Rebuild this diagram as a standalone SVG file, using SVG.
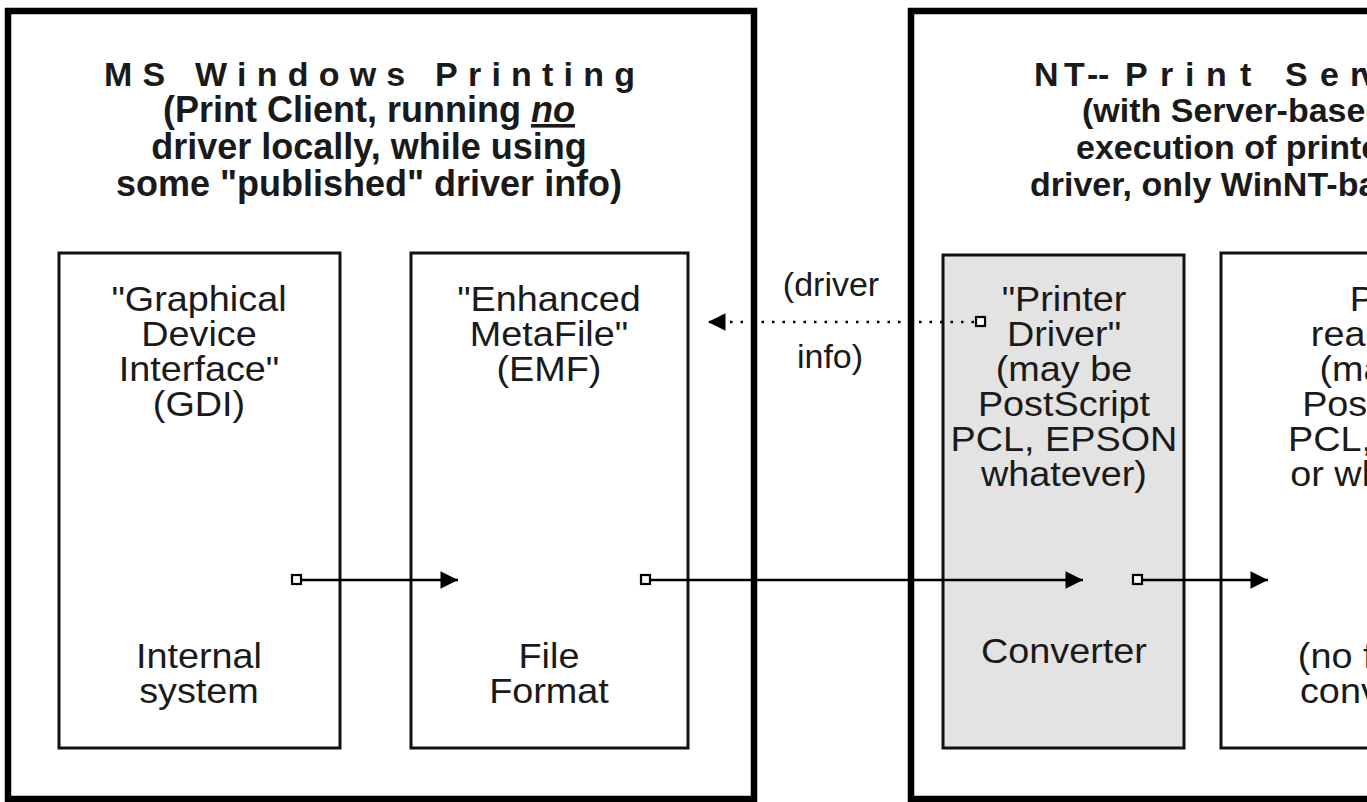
<svg xmlns="http://www.w3.org/2000/svg" width="1367" height="802" viewBox="0 0 1367 802">
<defs>
<style>
.outer{fill:#fff;stroke:#000;stroke-width:6.5}
.box{fill:#fff;stroke:#111;stroke-width:3}
.grey{fill:#e3e3e3;stroke:#111;stroke-width:3}
.t{font-family:"Liberation Sans",Arial,sans-serif;font-size:35px;fill:#1a1a1a;text-anchor:middle}
.ts{font-family:"Liberation Sans",Arial,sans-serif;font-size:35px;fill:#1a1a1a}
.lb{font-family:"Liberation Sans",Arial,sans-serif;font-size:34px;fill:#1a1a1a;text-anchor:middle}
.h{font-family:"Liberation Sans",Arial,sans-serif;font-size:34px;font-weight:bold;fill:#1a1a1a}
.hm{font-family:"Liberation Sans",Arial,sans-serif;font-size:36px;font-weight:bold;fill:#1a1a1a;text-anchor:middle}
.ln{stroke:#000;stroke-width:2.5;fill:none}
.dot{stroke:#000;stroke-width:2.5;fill:none;stroke-dasharray:2.5 8}
.sq{fill:#fff;stroke:#000;stroke-width:2.2}
</style>
<marker id="ah" viewBox="0 0 10 10" refX="10" refY="5" markerWidth="9" markerHeight="7" markerUnits="strokeWidth" orient="auto">
<path d="M0,0 L10,5 L0,10 Z" fill="#000"/>
</marker>
</defs>
<rect width="1367" height="802" fill="#fff"/>
<g id="client">
<rect class="outer" x="8" y="11" width="746" height="788"/>
<text class="h" x="104" y="86" textLength="531" lengthAdjust="spacing">MS Windows Printing</text>
<text class="hm" x="369" y="122">(Print Client, running <tspan font-style="italic" text-decoration="underline">no</tspan></text>
<text class="hm" x="369" y="159">driver locally, while using</text>
<text class="hm" x="369" y="196">some "published" driver info)</text>
</g>
<g id="gdi">
<rect class="box" x="59" y="253" width="281" height="495"/>
<g transform="matrix(1.08 0 0 1 -15.92 0)">
<text class="t" x="199" y="311">"Graphical</text>
<text class="t" x="199" y="346">Device</text>
<text class="t" x="199" y="381">Interface"</text>
<text class="t" x="199" y="416">(GDI)</text>
<text class="t" x="199" y="668">Internal</text>
<text class="t" x="199" y="703">system</text>
</g>
</g>
<g id="emf">
<rect class="box" x="411" y="253" width="277" height="495"/>
<g transform="matrix(1.08 0 0 1 -43.92 0)">
<text class="t" x="549" y="311">"Enhanced</text>
<text class="t" x="549" y="346">MetaFile"</text>
<text class="t" x="549" y="381">(EMF)</text>
<text class="t" x="549" y="668">File</text>
<text class="t" x="549" y="703">Format</text>
</g>
</g>
<g id="server">
<rect class="outer" x="911" y="11" width="500" height="788"/>
<text class="h" x="1034 1064 1087 1098 1110 1125 1160 1185 1206 1240 1262 1285 1320 1350 1360" y="86">NT-- Print Serv</text>
<text class="h" font-size="31" x="1082" y="122">(with Server-based</text>
<text class="h" font-size="31" x="1076" y="159">execution of printe</text>
<text class="h" font-size="31" x="1030" y="196">driver, only WinNT-bas</text>
</g>
<g id="driver">
<rect class="grey" x="943" y="255" width="241" height="493"/>
<g transform="matrix(1.08 0 0 1 -85.12 0)">
<text class="t" x="1064" y="311">"Printer</text>
<text class="t" x="1064" y="346">Driver"</text>
<text class="t" x="1064" y="381">(may be</text>
<text class="t" x="1064" y="416">PostScript</text>
<text class="t" x="1064" y="451">PCL, EPSON</text>
<text class="t" x="1064" y="486">whatever)</text>
<text class="t" x="1064" y="663">Converter</text>
</g>
</g>
<g id="ready">
<rect class="box" x="1221" y="253" width="200" height="495"/>
<g transform="matrix(1.08 0 0 1 -104 0)">
<text class="ts" x="1346" y="311">P</text>
<text class="ts" x="1310" y="346">reac</text>
<text class="ts" x="1318" y="381">(ma</text>
<text class="ts" x="1302" y="416">Post</text>
<text class="ts" x="1289" y="451">PCL,</text>
<text class="ts" x="1291" y="486">or wh</text>
<text class="ts" x="1298" y="668">(no fi</text>
<text class="ts" x="1300" y="703">conv</text>
</g>
</g>
<g id="connectors">
<line class="ln" x1="301" y1="580" x2="458" y2="580" marker-end="url(#ah)"/>
<rect class="sq" x="292" y="575" width="9" height="9"/>
<line class="ln" x1="650" y1="580" x2="1083" y2="580" marker-end="url(#ah)"/>
<rect class="sq" x="641" y="575" width="9" height="9"/>
<line class="ln" x1="1142" y1="580" x2="1268" y2="580" marker-end="url(#ah)"/>
<rect class="sq" x="1133" y="575" width="9" height="9"/>
<line class="dot" x1="974" y1="322" x2="708" y2="322" marker-end="url(#ah)"/>
<rect class="sq" x="976" y="317" width="9" height="9"/>
<text class="lb" x="831" y="296">(driver</text>
<text class="lb" x="830" y="368">info)</text>
</g>
</svg>
